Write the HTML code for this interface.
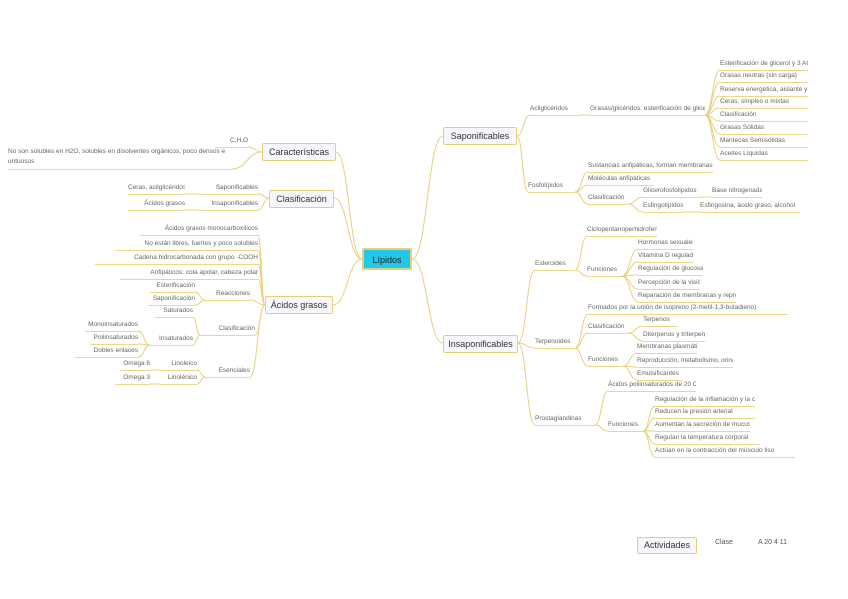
<!DOCTYPE html>
<html><head><meta charset="utf-8"><style>
body{margin:0;width:848px;height:599px;background:#fff;position:relative;overflow:hidden;font-family:"Liberation Sans",sans-serif}
.l{position:absolute;height:11px;font-size:6.5px;line-height:10px;color:#666;border-bottom:1px solid #edd88a;white-space:nowrap;overflow:hidden}
.b{position:absolute;box-sizing:border-box;border:1px solid #e6cf7a;background:#f5f7fb;color:#333;font-size:9px;text-align:center;border-radius:2px}
svg{position:absolute;left:0;top:0}
</style></head><body>
<svg id="s" width="848" height="599"></svg>
<div class="b" style="left:362px;top:248px;width:50px;height:22px;line-height:20px;background:#22c8e8;border:2px solid #e3cf7c;color:#222">Lípidos</div>
<div class="b" style="left:443px;top:127px;width:74px;height:18px;line-height:16px">Saponificables</div>
<div class="b" style="left:443px;top:335px;width:75px;height:18px;line-height:16px">Insaponificables</div>
<div class="b" style="left:262px;top:143px;width:74px;height:18px;line-height:16px">Características</div>
<div class="b" style="left:269px;top:190px;width:65px;height:18px;line-height:16px">Clasificación</div>
<div class="b" style="left:265px;top:296px;width:68px;height:18px;line-height:16px">Ácidos grasos</div>
<div class="b" style="left:637px;top:537px;width:60px;height:17px;line-height:15px">Actividades</div>
<div style="position:absolute;left:715px;top:539px;font-size:7px;color:#555">Clase</div>
<div style="position:absolute;left:758px;top:539px;font-size:7px;color:#555">A 20 4 11</div>
<div class="l" style="left:8px;top:147px;width:224px;height:22px;line-height:10px;white-space:normal">No son solubles en H2O, solubles en disolventes orgánicos, poco densos e untuosos</div>
<script>
var s=document.getElementById('s'),P='';
function c(a,b,x,y){var m=(a+x)/2;P+='<path d="M'+a+' '+b+' C'+m+' '+b+' '+m+' '+y+' '+x+' '+y+'" fill="none" stroke="#e8d07c" stroke-width="1"/>';}
function L(x,y,w,t,r){var d=document.createElement('div');d.className='l';d.style.left=x+'px';d.style.top=(y-11)+'px';d.style.width=w+'px';if(r)d.style.textAlign='right';d.textContent=t;document.body.appendChild(d);}
c(412,259,443,136);c(412,259,443,343);c(362,259,336,152);c(362,259,334,198);c(362,259,333,305);
c(517,136,530,115);c(517,136,528,192);
L(530,115,50,'Acilglicéridos');L(590,115,115,'Grasas/glicéridos: esterificación de glicerol');c(580,115,590,115);
var a=[[70,'Esterificación de glicerol y 3 AG'],[82,'Grasas neutras (sin carga)'],[96,'Reserva energética, aislante y protectora'],[108,'Ceras: simples o mixtas'],[121,'Clasificación'],[134,'Grasas        Sólidas'],[147,'Mantecas        Semisólidas'],[160,'Aceites        Líquidas']];
a.forEach(function(e){c(705,115,720,e[0]);L(720,e[0],88,e[1]);});
L(528,192,47,'Fosfolípidos');
[[172,125,'Sustancias anfipáticas, forman membranas celulares'],[185,65,'Moléculas anfipáticas'],[204,40,'Clasificación']].forEach(function(e){c(575,192,588,e[0]);L(588,e[0],e[1],e[2]);});
c(628,204,643,197);c(628,204,643,212);L(643,197,55,'Glicerofosfolípidos');L(643,212,40,'Esfingolípidos');
c(698,197,712,197);L(712,197,50,'Base nitrogenada');c(683,212,700,212);L(700,212,100,'Esfingosina, ácido graso, alcohol');
c(518,343,535,270);c(518,343,535,348);c(518,343,535,425);
L(535,270,40,'Esteroides');L(535,348,40,'Terpenoides');L(535,425,60,'Prostaglandinas');
c(575,270,587,236);c(575,270,587,276);L(587,236,70,'Ciclopentanoperhidrofenantreno');L(587,276,35,'Funciones');
[[249,55,'Hormonas sexuales'],[262,55,'Vitamina D reguladora'],[275,65,'Regulación de glucosa'],[289,62,'Percepción de la visión'],[302,98,'Reparación de membranas y reproducción']].forEach(function(e){c(622,276,638,e[0]);L(638,e[0],e[1],e[2]);});
c(575,348,588,314);c(575,348,588,333);c(575,348,588,366);
L(588,314,200,'Formados por la unión de isopreno (2-metil-1,3-butadieno)');L(588,333,40,'Clasificación');L(588,366,35,'Funciones');
c(628,333,643,326);c(628,333,643,341);L(643,326,35,'Terpenos');L(643,341,62,'Diterpenos y triterpenos');
c(623,366,637,353);c(623,366,637,367);c(623,366,637,380);L(637,353,60,'Membranas plasmáticas');L(637,367,96,'Reproducción, metabolismo, orina');L(637,380,46,'Emulsificantes');
c(595,425,608,391);c(595,425,608,431);L(608,391,88,'Ácidos poliinsaturados de 20 C');L(608,431,35,'Funciones');
[[406,100,'Regulación de la inflamación y la coagulación'],[418,100,'Reducen la presión arterial'],[431,95,'Aumentan la secreción de mucus'],[444,105,'Regulan la temperatura corporal'],[457,140,'Actúan en la contracción del músculo liso']].forEach(function(e){c(643,431,655,e[0]);L(655,e[0],e[1],e[2]);});
c(262,152,248,147);c(262,152,232,169);L(215,147,33,'C,H,O',1);
c(269,198,258,194);c(269,198,258,210);L(197,194,61,'Saponificables',1);L(197,210,61,'Insaponificables',1);
c(197,194,185,194);c(197,210,185,210);L(128,194,57,'Ceras, acilglicéridos',1);L(128,210,57,'Ácidos grasos',1);
[[235,140,'Ácidos grasos monocarboxílicos'],[250,115,'No están libres, fuertes y poco solubles'],[264,95,'Cadena hidrocarbonada con grupo -COOH'],[279,120,'Anfipáticos: cola apolar, cabeza polar']].forEach(function(e){c(265,305,258,e[0]);L(e[1],e[0],258-e[1],e[2],1);});
c(265,305,250,300);c(265,305,255,335);c(265,305,250,377);
L(205,300,45,'Reacciones',1);L(200,335,55,'Clasificación',1);L(205,377,45,'Esenciales',1);
c(205,300,195,292);c(205,300,195,305);L(150,292,45,'Esterificación',1);L(148,305,47,'Saponificación',1);
c(200,335,193,317);c(200,335,193,345);L(155,317,38,'Saturados',1);L(150,345,43,'Insaturados',1);
c(150,345,138,331);c(150,345,138,344);c(150,345,138,357);L(85,331,53,'Monoinsaturados',1);L(90,344,48,'Poliinsaturados',1);L(75,357,63,'Dobles enlaces',1);
c(205,377,197,370);c(205,377,197,384);L(160,370,37,'Linoleico',1);L(160,384,37,'Linolénico',1);
c(160,370,150,370);c(160,384,150,384);L(120,370,30,'Omega 6',1);L(115,384,35,'Omega 3',1);
s.innerHTML=P;
</script>
</body></html>
